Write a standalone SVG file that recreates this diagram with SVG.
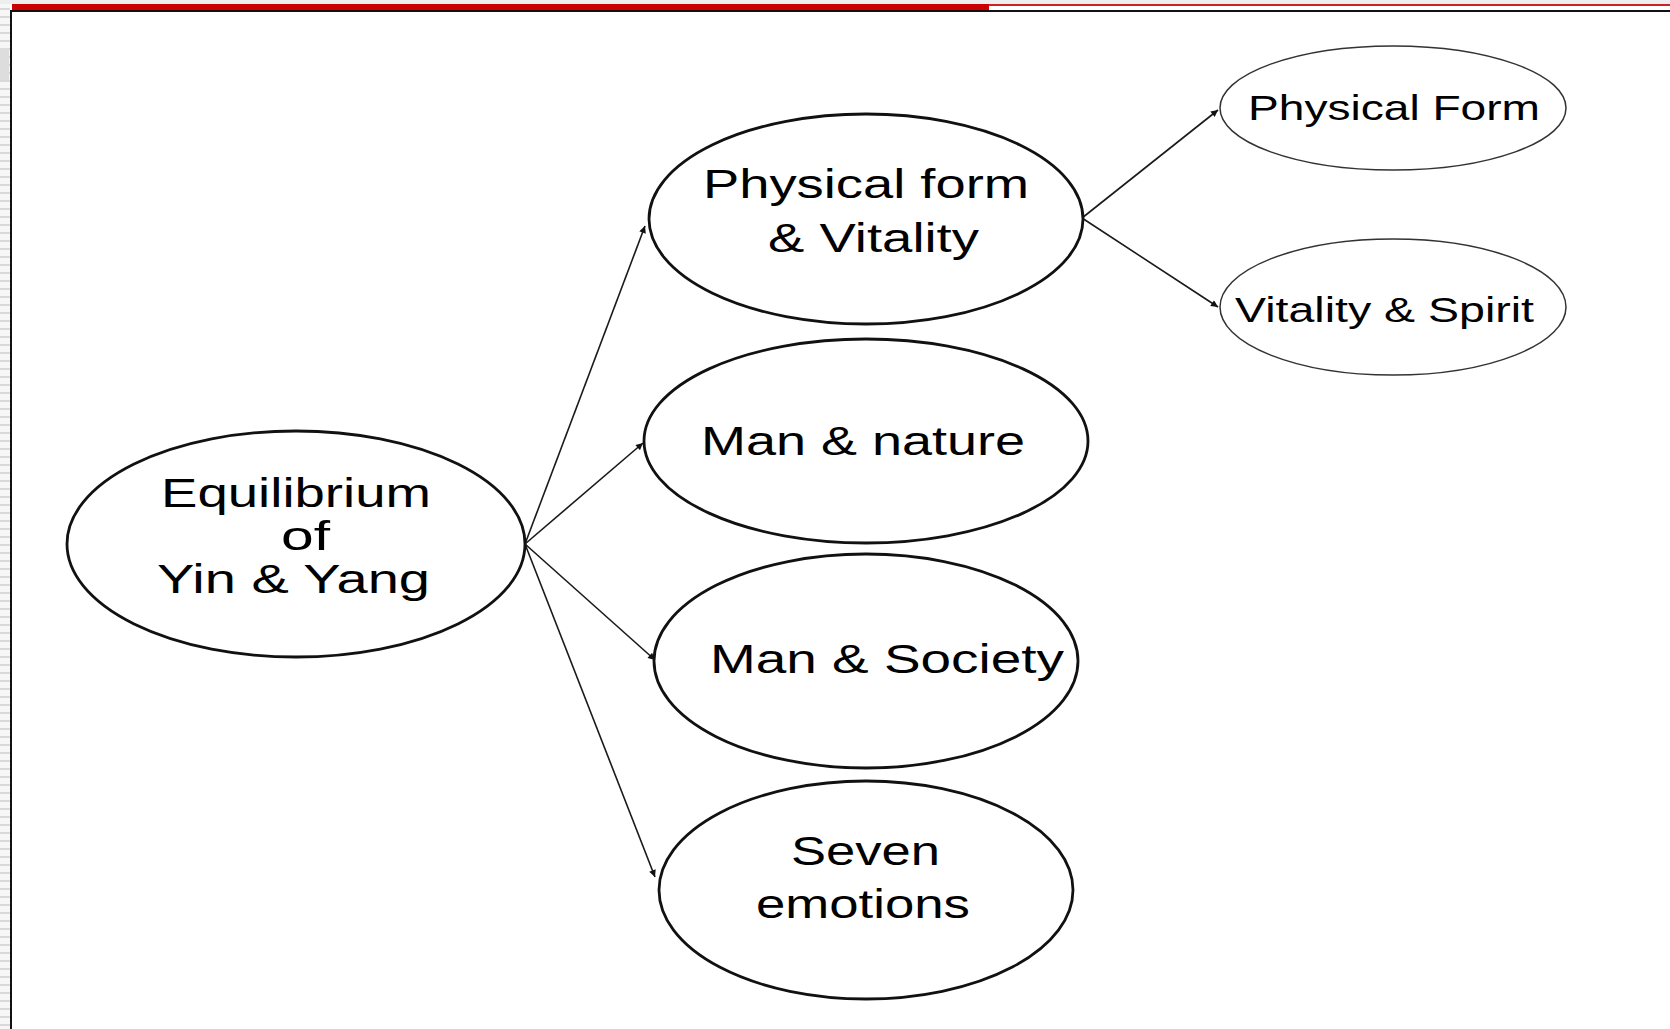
<svg xmlns="http://www.w3.org/2000/svg" width="1670" height="1029" viewBox="0 0 1670 1029">
  <style>
    .big { fill: #ffffff; stroke: #111111; stroke-width: 2.8; }
    .small { fill: #ffffff; stroke: #333333; stroke-width: 1.5; }
    .lbl { font-family: "Liberation Sans", Arial, sans-serif; font-size: 40px; fill: #000000; }
    .lbls { font-family: "Liberation Sans", Arial, sans-serif; font-size: 35px; fill: #000000; }
    .conn { stroke: #1a1a1a; stroke-width: 1.6; fill: none; marker-end: url(#arrow); }
  </style>
  <defs>
    <marker id="arrow" viewBox="0 0 10 10" refX="10" refY="5" markerWidth="11" markerHeight="7" markerUnits="userSpaceOnUse" orient="auto">
      <path d="M0,0 L10,5 L0,10 z" fill="#111111"/>
    </marker>
    <pattern id="stripes" x="0" y="0" width="10" height="8" patternUnits="userSpaceOnUse">
      <rect x="0" y="0" width="10" height="8" fill="#f7f7f7"/>
      <rect x="0" y="0" width="10" height="2" fill="#d9d9d9"/>
    </pattern>
  </defs>

  <rect x="0" y="0" width="1670" height="1029" fill="#ffffff"/>

  <!-- frame -->
  <g id="frame">
    <rect x="0" y="0" width="10" height="1029" fill="url(#stripes)"/>
    <rect x="0" y="48" width="9" height="32" fill="#dddddd"/>
    <rect x="0" y="0" width="1670" height="4" fill="#eeeeee"/>
    <rect x="12" y="4" width="977" height="6" fill="#cc0000"/>
    <rect x="989" y="4" width="681" height="2" fill="#cc2222"/>
    <rect x="10" y="10" width="1660" height="2" fill="#111111"/>
    <rect x="10" y="10" width="2" height="1019" fill="#111111"/>
  </g>

  <!-- connectors -->
  <g id="connectors">
    <line class="conn" x1="525" y1="544" x2="645" y2="226"/>
    <line class="conn" x1="525" y1="544" x2="643" y2="443"/>
    <line class="conn" x1="525" y1="544" x2="655" y2="660"/>
    <line class="conn" x1="525" y1="544" x2="655" y2="877"/>
    <line class="conn" x1="1082" y1="218" x2="1218" y2="110"/>
    <line class="conn" x1="1082" y1="218" x2="1218" y2="307"/>
  </g>

  <g id="node-equilibrium">
    <ellipse class="big" cx="296" cy="544" rx="229" ry="113"/>
    <text class="lbl" x="161" y="507" textLength="270" lengthAdjust="spacingAndGlyphs">Equilibrium</text>
    <text class="lbl" x="281" y="550" textLength="49" lengthAdjust="spacingAndGlyphs">of</text>
    <text class="lbl" x="157" y="593" textLength="273" lengthAdjust="spacingAndGlyphs">Yin &amp; Yang</text>
  </g>

  <g id="node-physical-vitality">
    <ellipse class="big" cx="866" cy="219" rx="217" ry="105"/>
    <text class="lbl" x="703" y="198" textLength="326" lengthAdjust="spacingAndGlyphs">Physical form</text>
    <text class="lbl" x="768" y="252" textLength="211" lengthAdjust="spacingAndGlyphs">&amp; Vitality</text>
  </g>

  <g id="node-man-nature">
    <ellipse class="big" cx="866" cy="441" rx="222" ry="102"/>
    <text class="lbl" x="701" y="455" textLength="324" lengthAdjust="spacingAndGlyphs">Man &amp; nature</text>
  </g>

  <g id="node-man-society">
    <ellipse class="big" cx="866" cy="661" rx="212" ry="107"/>
    <text class="lbl" x="710" y="673" textLength="354" lengthAdjust="spacingAndGlyphs">Man &amp; Society</text>
  </g>

  <g id="node-seven-emotions">
    <ellipse class="big" cx="866" cy="890" rx="207" ry="109"/>
    <text class="lbl" x="791" y="865" textLength="149" lengthAdjust="spacingAndGlyphs">Seven</text>
    <text class="lbl" x="756" y="918" textLength="214" lengthAdjust="spacingAndGlyphs">emotions</text>
  </g>

  <g id="node-physical-form">
    <ellipse class="small" cx="1393" cy="108" rx="173" ry="62"/>
    <text class="lbls" x="1248" y="120" textLength="292" lengthAdjust="spacingAndGlyphs">Physical Form</text>
  </g>

  <g id="node-vitality-spirit">
    <ellipse class="small" cx="1393" cy="307" rx="173" ry="68"/>
    <text class="lbls" x="1235" y="322" textLength="299" lengthAdjust="spacingAndGlyphs">Vitality &amp; Spirit</text>
  </g>
</svg>
